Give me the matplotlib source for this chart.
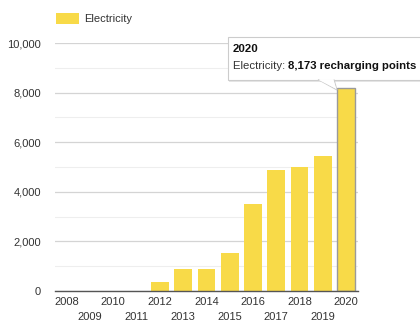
import matplotlib
matplotlib.use("Agg")
import matplotlib.pyplot as plt
from matplotlib.patches import Rectangle, Polygon
from matplotlib.ticker import MultipleLocator, FuncFormatter

plt.rcParams["font.family"] = ["Liberation Sans", "DejaVu Sans"]

years = ["2008", "2009", "2010", "2011", "2012", "2013", "2014", "2015",
         "2016", "2017", "2018", "2019", "2020"]
electricity = [0, 0, 0, 0, 360, 875, 875, 1520, 3510, 4880, 4990, 5455, 8173]
series_name = "Electricity"
tooltip_year = "2020"
tooltip_value = "8,173 recharging points"

bar_color = "#F8DA48"
fs = 8.0
tfs = 8.2

fig = plt.figure(figsize=(4.2, 3.27), dpi=100)
ax = fig.add_axes([0.131, 0.110, 0.721, 0.7585])

x = list(range(len(years)))
edges = ["none"] * (len(years) - 1) + ["#9a9a9a"]
lws = [0] * (len(years) - 1) + [1.0]
ax.bar(x, electricity, width=0.76, color=bar_color, edgecolor=edges,
       linewidth=lws, zorder=3)

ax.set_xlim(-0.5, len(years) - 0.5)
ax.set_ylim(0, 10000)
ax.yaxis.set_major_locator(MultipleLocator(2000))
ax.yaxis.set_minor_locator(MultipleLocator(1000))
ax.yaxis.set_major_formatter(FuncFormatter(lambda v, p: f"{int(v):,}"))
ax.grid(axis="y", which="major", color="#d4d4d4", linewidth=0.9, zorder=0)
ax.grid(axis="y", which="minor", color="#eeeeee", linewidth=0.8, zorder=0)
ax.set_axisbelow(True)

for s in ["top", "right", "left"]:
    ax.spines[s].set_visible(False)
ax.spines["bottom"].set_color("#555555")
ax.spines["bottom"].set_linewidth(1.0)
ax.spines["bottom"].set_zorder(4)

ax.set_xticks(x)
ax.set_xticklabels([y if i % 2 == 0 else "\n" + y for i, y in enumerate(years)])
ax.tick_params(axis="x", length=0, pad=4.5, labelsize=fs, colors="#333333")
ax.tick_params(axis="y", which="both", length=0, pad=10, labelsize=fs,
               colors="#333333")
for lbl in ax.get_xticklabels():
    lbl.set_linespacing(1.6)

# legend
fig.patches.append(Rectangle((56 / 420, 1 - 24 / 327), 23 / 420, 11 / 327,
                             transform=fig.transFigure, facecolor=bar_color,
                             edgecolor="none"))
fig.text(84 / 420, 1 - 18.5 / 327, series_name, fontsize=fs, color="#333333",
         va="center", ha="left")

# tooltip
bx0, by0, bx1, by1 = 228, 37, 432, 80  # pixel coords (top-left origin)
def fx(px): return px / 420
def fy(py): return 1 - py / 327
shadow = Rectangle((fx(bx0 + 1.5), fy(by1 + 1.5)), fx(bx1 - bx0), (by1 - by0) / 327,
                   transform=fig.transFigure, facecolor="#e6e6e6",
                   edgecolor="none", zorder=9)
box = Rectangle((fx(bx0), fy(by1)), fx(bx1 - bx0), (by1 - by0) / 327,
                transform=fig.transFigure, facecolor="white",
                edgecolor="#cccccc", linewidth=0.8, zorder=10)
fig.patches.extend([shadow, box])
tri = Polygon([(fx(318), fy(by1 - 0.5)), (fx(337), fy(90)), (fx(334), fy(by1 - 0.5))],
              closed=False, transform=fig.transFigure, facecolor="white",
              edgecolor="#cccccc", linewidth=0.8, zorder=10)
fig.patches.append(tri)
fill = Polygon([(fx(318.8), fy(by1)), (fx(336.3), fy(89)), (fx(333.4), fy(by1))],
               closed=True, transform=fig.transFigure, facecolor="white",
               edgecolor="none", zorder=11)
fig.patches.append(fill)
fig.text(fx(233), fy(49), tooltip_year, fontsize=tfs, fontweight="bold",
         color="#111111", va="center", ha="left", zorder=12)
t1 = fig.text(fx(233), fy(66), series_name + ": ", fontsize=tfs,
              color="#333333", va="center", ha="left", zorder=12)
fig.canvas.draw()
bb = t1.get_window_extent()
fig.text(bb.x1 / fig.bbox.width, fy(66), tooltip_value, fontsize=tfs,
         fontweight="bold", color="#111111", va="center", ha="left", zorder=12)

fig.savefig("out.png", dpi=100)
